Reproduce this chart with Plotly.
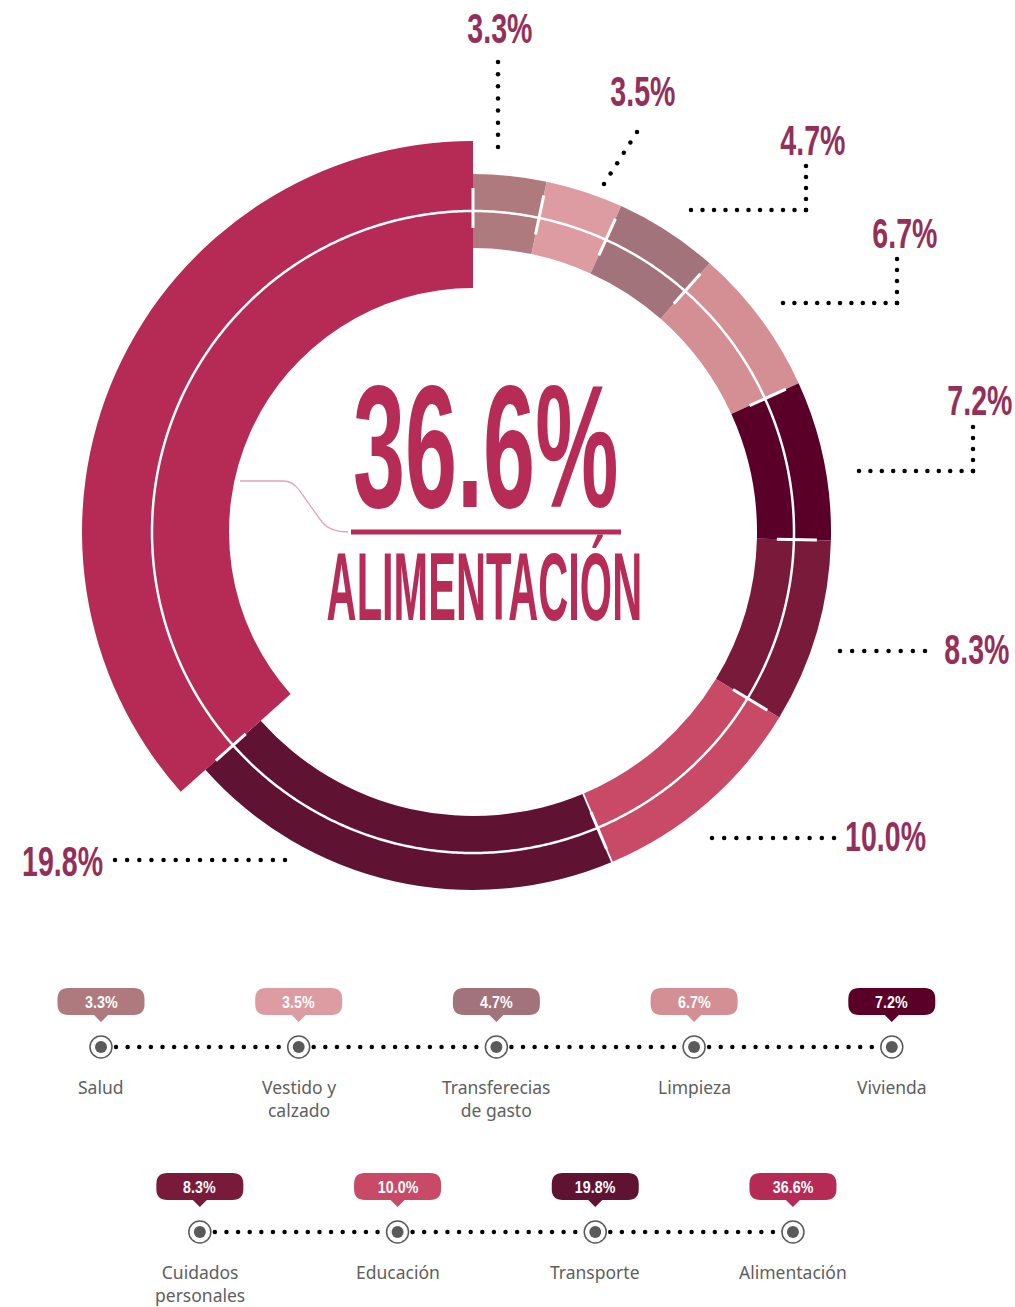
import json
import numpy as np
import plotly.graph_objects as go

# ---------------- data ----------------
categories = ["Salud", "Vestido y calzado", "Transferecias de gasto", "Limpieza",
              "Vivienda", "Cuidados personales", "Educación", "Transporte", "Alimentación"]
legend_labels = ["Salud", "Vestido y<br>calzado", "Transferecias<br>de gasto", "Limpieza",
                 "Vivienda", "Cuidados<br>personales", "Educación", "Transporte", "Alimentación"]
values = [3.3, 3.5, 4.7, 6.7, 7.2, 8.3, 10.0, 19.8, 36.6]
value_labels = [f"{v:.1f}%" for v in values]
colors = ["#AF7A7E", "#DD9CA1", "#A2737B", "#D48F94", "#5A0028",
          "#7A1A3A", "#C84A66", "#601232", "#B52B55"]

# ---------------- styling / layout constants ----------------
W, H = 1015, 1307
CX, CY = 473, 532                # donut centre (px)
R_PX = 400                       # radial axis max in px
inner_r = [284] * 8 + [244]
outer_r = [358] * 8 + [391]
CIRCLE_R = 321
TICK_R = (304, 344)
LABEL_COLOR = "#93305A"
MAIN_COLOR = "#B72C56"
COND_FONT = "Liberation Sans, Arial, sans-serif"
BODY_FONT = "Noto Sans, Lato, sans-serif"

# percentage label anchors and leader lines (px) for the first 8 slices
label_xy = [(500, 28), (643, 91), (813, 140), (905, 233), (980, 400), (977, 649), (885, 836), (62, 861)]
leaders = [
    [(498, 62), (498, 147)],
    [(637, 132), (604, 184)],
    [(806, 166), (806, 210), (691, 210)],
    [(897, 259), (897, 303), (783, 303)],
    [(973, 427), (973, 471), (859, 471)],
    [(925, 651), (840, 651)],
    [(834, 838), (712, 838)],
    [(115, 860), (285, 860)],
]

# ---------------- derived geometry ----------------
total = sum(values)
spans = [v / total * 360 for v in values]
starts = np.concatenate([[0], np.cumsum(spans)[:-1]])
centers = starts + np.array(spans) / 2

fig = go.Figure()

fig.add_trace(go.Barpolar(
    theta=centers, width=spans,
    base=inner_r, r=[o - i for o, i in zip(outer_r, inner_r)],
    marker=dict(color=colors, line=dict(width=0)),
    hoverinfo="skip", showlegend=False,
))

# thin white seam between Educación and Transporte
fig.add_trace(go.Scatterpolar(theta=[starts[7], starts[7]], r=[inner_r[7] - 2, outer_r[7] + 2],
                              mode="lines", line=dict(color="white", width=1.8),
                              hoverinfo="skip", showlegend=False))

th = np.linspace(0, 360, 721)
fig.add_trace(go.Scatterpolar(theta=th, r=[CIRCLE_R] * len(th), mode="lines",
                              line=dict(color="white", width=2.5),
                              hoverinfo="skip", showlegend=False))

tt, tr = [], []
for b in list(starts):
    tt += [b, b, None]
    tr += [TICK_R[0], TICK_R[1], None]
fig.add_trace(go.Scatterpolar(theta=tt, r=tr, mode="lines",
                              line=dict(color="white", width=3),
                              hoverinfo="skip", showlegend=False))

dx, dy = [], []
for poly in leaders:
    for (x0, y0), (x1, y1) in zip(poly[:-1], poly[1:]):
        L = np.hypot(x1 - x0, y1 - y0)
        n = max(int(round(L / 12)), 1)
        t = np.linspace(0, 1, n + 1)
        dx += list(x0 + (x1 - x0) * t)
        dy += list(y0 + (y1 - y0) * t)
fig.add_trace(go.Scatter(x=dx, y=dy, mode="markers",
                         marker=dict(color="black", size=4.5),
                         hoverinfo="skip", showlegend=False))

annotations = []
shapes = []
xscale = {}   # annotation index -> horizontal condensing factor


def add_ann(scale=None, **kw):
    if scale is not None:
        xscale[str(len(annotations))] = scale
    annotations.append(dict(xref="x", yref="y", showarrow=False, **kw))


for (x, y), txt in zip(label_xy, value_labels[:8]):
    add_ann(scale=0.68, x=x, y=y, text=txt, xanchor="center", yanchor="middle",
            font=dict(family=COND_FONT, size=42, color=LABEL_COLOR, weight="bold"))

add_ann(scale=0.538, x=485, y=446, text=value_labels[8], xanchor="center", yanchor="middle",
        font=dict(family=COND_FONT, size=174, color=MAIN_COLOR, weight="bold"))
add_ann(scale=0.433, x=484, y=586, text=categories[8].upper(), xanchor="center", yanchor="middle",
        font=dict(family=COND_FONT, size=96, color=MAIN_COLOR, weight="bold"))
shapes.append(dict(type="line", xref="x", yref="y", x0=351, x1=621, y0=532, y1=532,
                   line=dict(color=MAIN_COLOR, width=5), layer="above"))
shapes.append(dict(type="path", xref="x", yref="y",
                   path="M 240 481 L 283 481 Q 293 481 299 490 L 322 522 Q 330 532 348 532",
                   line=dict(color="#E3A3B8", width=1.3), layer="above"))

# ---------------- bottom timeline legend ----------------
LEG_X0, LEG_DX = 101, 197.7
rows = [(range(0, 5), 0.0, 1047), (range(5, 9), 0.5, 1232)]
mx, my = [], []
ldx, ldy = [], []
for idxs, off, ry in rows:
    xs = [LEG_X0 + (k + off) * LEG_DX for k in range(len(idxs))]
    for k, i in enumerate(idxs):
        x = xs[k]
        mx.append(x); my.append(ry)
        pw, ph, rr = 87, 27, 11
        top = ry - 59
        bot = top + ph
        l, r = x - pw / 2, x + pw / 2
        path = (f"M {l+rr} {top} L {r-rr} {top} Q {r} {top} {r} {top+rr} "
                f"L {r} {bot-rr} Q {r} {bot} {r-rr} {bot} "
                f"L {x+7} {bot} L {x} {bot+7} L {x-7} {bot} "
                f"L {l+rr} {bot} Q {l} {bot} {l} {bot-rr} L {l} {top+rr} Q {l} {top} {l+rr} {top} Z")
        shapes.append(dict(type="path", xref="x", yref="y", path=path,
                           fillcolor=colors[i], line=dict(width=0), layer="above"))
        add_ann(scale=0.84, x=x, y=top + ph / 2 + 0.5, text=value_labels[i],
                xanchor="center", yanchor="middle",
                font=dict(family=COND_FONT, size=17, color="white", weight="bold"))
        add_ann(x=x, y=ry + 26, text=legend_labels[i], xanchor="center", yanchor="top",
                font=dict(family=BODY_FONT, size=17.5, color="#606060"))
        if k < len(idxs) - 1:
            xa, xb = x + 15, xs[k + 1] - 20
            n = int(round((xb - xa) / 11.7))
            ldx += list(np.linspace(xa, xb, n + 1))
            ldy += [ry] * (n + 1)

fig.add_trace(go.Scatter(x=ldx, y=ldy, mode="markers",
                         marker=dict(color="black", size=4.5),
                         hoverinfo="skip", showlegend=False))
fig.add_trace(go.Scatter(x=mx, y=my, mode="markers",
                         marker=dict(symbol="circle", size=22, color="white",
                                     line=dict(color="#5A5A5A", width=1.5)),
                         hoverinfo="skip", showlegend=False))
fig.add_trace(go.Scatter(x=mx, y=my, mode="markers",
                         marker=dict(symbol="circle", size=12, color="#5A5A5A"),
                         hoverinfo="skip", showlegend=False))

fig.update_layout(
    width=W, height=H,
    margin=dict(l=0, r=0, t=0, b=0),
    paper_bgcolor="white", plot_bgcolor="rgba(0,0,0,0)",
    showlegend=False,
    xaxis=dict(range=[0, W], domain=[0, 1], visible=False, fixedrange=True),
    yaxis=dict(range=[H, 0], domain=[0, 1], visible=False, fixedrange=True),
    polar=dict(
        domain=dict(x=[(CX - R_PX) / W, (CX + R_PX) / W],
                    y=[1 - (CY + R_PX) / H, 1 - (CY - R_PX) / H]),
        bgcolor="rgba(0,0,0,0)",
        radialaxis=dict(range=[0, R_PX], visible=False, showgrid=False),
        angularaxis=dict(rotation=90, direction="clockwise", visible=False, showgrid=False),
        hole=0,
    ),
    annotations=annotations,
    shapes=shapes,
)

# page without the default body margin; condense the display type horizontally
post = ("document.body.style.margin='0';"
        "document.body.style.overflow='hidden';"
        "var sc = " + json.dumps(xscale) + ";"
        "document.querySelectorAll('g.annotation').forEach(function(g){"
        "var s = sc[g.getAttribute('data-index')];"
        "if(s){var t = g.querySelector('text.annotation-text');"
        "if(t){t.style.transformBox='fill-box';t.style.transformOrigin='center';"
        "t.style.transform='scaleX('+s+')';}}});")

fig.write_html("out.html", post_script=post, config={"displayModeBar": False})
